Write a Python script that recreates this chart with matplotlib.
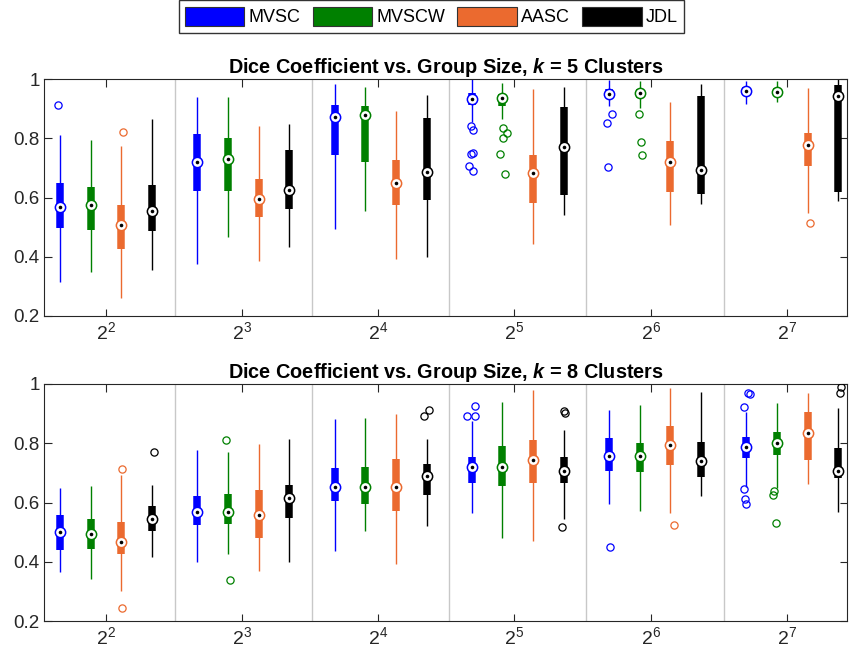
import matplotlib
matplotlib.use("Agg")
import matplotlib.pyplot as plt
from matplotlib.patches import Patch

plt.rcParams['font.family'] = ['Liberation Sans', 'DejaVu Sans']
plt.rcParams['mathtext.fontset'] = 'custom'
plt.rcParams['mathtext.rm'] = 'Liberation Sans'
plt.rcParams['mathtext.it'] = 'Liberation Sans:italic'
plt.rcParams['mathtext.bf'] = 'Liberation Sans:bold'
try:
    plt.rcParams['mathtext.bfit'] = 'Liberation Sans:italic:bold'
    BFIT = True
except KeyError:
    BFIT = False

# ---------------- data ----------------
methods = ['MVSC', 'MVSCW', 'AASC', 'JDL']
colors = ['#0000FF', '#008000', '#EB6A2F', '#000000']
group_labels = [r'$2^{2}$', r'$2^{3}$', r'$2^{4}$', r'$2^{5}$', r'$2^{6}$', r'$2^{7}$']
y_ticks = [0.2, 0.4, 0.6, 0.8, 1.0]
y_ticklabels = ['0.2', '0.4', '0.6', '0.8', '1']
titles = ['Dice Coefficient vs. Group Size, k = 5 Clusters',
          'Dice Coefficient vs. Group Size, k = 8 Clusters']
k_values = [5, 8]

# per method: rows = groups (2^2..2^7), cols = [whisker low, q1, median, q3, whisker high]
k5_MVSC = [[.316, .496, .569, .649, .810],
           [.377, .621, .720, .814, .940],
           [.494, .742, .871, .912, .983],
           [.856, .912, .932, .952, 1.00],
           [.910, .935, .949, .965, .997],
           [.915, .945, .958, .972, .993]]
k5_MVSCW = [[.347, .490, .576, .637, .794],
            [.468, .621, .730, .802, .940],
            [.556, .719, .877, .910, .974],
            [.865, .910, .937, .950, .985],
            [.901, .935, .952, .965, .993],
            [.921, .945, .957, .970, .993]]
k5_AASC = [[.260, .426, .507, .575, .774],
           [.385, .533, .596, .664, .841],
           [.391, .576, .649, .727, .893],
           [.443, .583, .683, .745, .966],
           [.508, .619, .721, .790, .922],
           [.549, .706, .778, .819, .971]]
k5_JDL = [[.354, .487, .554, .641, .865],
          [.434, .561, .625, .760, .848],
          [.398, .591, .686, .867, .945],
          [.540, .608, .772, .907, .972],
          [.579, .613, .693, .943, .983],
          [.587, .619, .944, .980, 1.00]]

k8_MVSC = [[.365, .440, .499, .557, .649],
           [.398, .523, .567, .623, .777],
           [.437, .606, .653, .715, .882],
           [.566, .665, .719, .752, .875],
           [.596, .707, .758, .818, .913],
           [.653, .749, .788, .820, .906]]
k8_MVSCW = [[.343, .442, .495, .545, .656],
            [.427, .526, .567, .628, .772],
            [.505, .596, .653, .719, .884],
            [.479, .655, .719, .792, .938],
            [.572, .702, .758, .800, .929],
            [.648, .760, .800, .839, .937]]
k8_AASC = [[.301, .425, .467, .533, .693],
           [.370, .481, .559, .641, .797],
           [.392, .570, .653, .746, .898],
           [.471, .667, .742, .811, .979],
           [.563, .728, .795, .858, .988],
           [.662, .743, .834, .904, .971]]
k8_JDL = [[.417, .503, .543, .587, .659],
          [.399, .547, .615, .658, .815],
          [.522, .626, .688, .729, .814],
          [.544, .665, .707, .755, .845],
          [.622, .687, .739, .803, .974],
          [.569, .682, .707, .783, .918]]

# outliers: (method index, group index, value, horizontal jitter in box units)
k5_outliers = [
    (0, 0, .912, -0.05), (2, 0, .821, 0.05),
    (0, 3, .842, -0.02), (0, 3, .828, 0.05), (0, 3, .751, 0.05),
    (0, 3, .746, -0.02), (0, 3, .707, -0.09), (0, 3, .690, 0.03),
    (1, 3, .834, 0.01), (1, 3, .819, 0.14), (1, 3, .802, 0.01),
    (1, 3, .746, -0.07), (1, 3, .680, 0.09),
    (0, 4, .881, 0.11), (0, 4, .850, -0.07), (0, 4, .704, -0.04),
    (1, 4, .883, -0.03), (1, 4, .786, 0.03), (1, 4, .743, 0.06),
    (2, 5, .514, 0.09),
]
k8_outliers = [
    (2, 0, .713, 0.02), (2, 0, .245, 0.03), (3, 0, .770, 0.05),
    (1, 1, .810, -0.05), (1, 1, .339, 0.07),
    (3, 2, .891, -0.08), (3, 2, .912, 0.09),
    (0, 3, .925, 0.11), (0, 3, .892, -0.14), (0, 3, .892, 0.11),
    (3, 3, .908, 0.00), (3, 3, .901, 0.03), (3, 3, .516, -0.05),
    (0, 4, .450, 0.02), (2, 4, .524, 0.10),
    (0, 5, .969, 0.07), (0, 5, .966, 0.12), (0, 5, .923, -0.07),
    (0, 5, .644, -0.07), (0, 5, .611, -0.04), (0, 5, .595, -0.02),
    (1, 5, .640, -0.10), (1, 5, .625, -0.13), (1, 5, .532, -0.02),
    (3, 5, .991, 0.09), (3, 5, .971, 0.05),
]

panels = [
    ([k5_MVSC, k5_MVSCW, k5_AASC, k5_JDL], k5_outliers),
    ([k8_MVSC, k8_MVSCW, k8_AASC, k8_JDL], k8_outliers),
]

# ---------------- layout ----------------
W, H = 854, 661
fig = plt.figure(figsize=(W / 100, H / 100), dpi=100)
ax_left, ax_right = 44, 847
ax_rects = [(79, 316), (384, 621)]

group_step = 4.471
tick_pos = [1.5, 5.92, 10.37, 14.79, 19.24, 23.67]
sep_pos = [g * group_step + 3 + (group_step - 3) / 2 for g in range(5)]
axis_color = '#262626'

for p, ((stats, outliers), (top, bot)) in enumerate(zip(panels, ax_rects)):
    ax = fig.add_axes([ax_left / W, 1 - bot / H, (ax_right - ax_left) / W, (bot - top) / H])
    for s in sep_pos:
        ax.axvline(s, color='#C8C8C8', lw=1.0, zorder=0.5)
    for m, (mstats, col) in enumerate(zip(stats, colors)):
        for g, (lo, q1, med, q3, hi) in enumerate(mstats):
            x = g * group_step + m
            ax.plot([x, x], [lo, hi], color=col, lw=1.0, solid_capstyle='butt', zorder=2)
            ax.plot([x, x], [q1, q3], color=col, lw=5.4, solid_capstyle='butt', zorder=3)
            ax.plot([x], [med], marker='o', ms=7.4, mfc='white', mec=col, mew=1.1, zorder=4)
            ax.plot([x], [med], marker='o', ms=2.6, mfc='black', mec='black', mew=0, zorder=5)
    for (m, g, v, dx) in outliers:
        x = g * group_step + m + dx
        ax.plot([x], [v], marker='o', ms=5.2, mfc='none', mec=colors[m], mew=0.9, zorder=3)

    ax.set_xlim(-0.521, 25.635)
    ax.set_ylim(0.2, 1.0)
    ax.set_xticks(tick_pos)
    ax.set_xticklabels(group_labels, fontsize=14)
    ax.set_yticks(y_ticks)
    ax.set_yticklabels(y_ticklabels, fontsize=13.5)
    ax.tick_params(direction='in', length=5.4, width=0.8, colors=axis_color,
                   top=True, right=True, labelcolor=axis_color)
    ax.tick_params(axis='x', pad=4)
    ax.tick_params(axis='y', pad=3)
    for sp in ax.spines.values():
        sp.set_color(axis_color)
        sp.set_linewidth(0.8)
    if BFIT:
        ttl = r'Dice Coefficient vs. Group Size, $\mathbfit{k}$ = %d Clusters' % k_values[p]
    else:
        ttl = titles[p]
    ax.set_title(ttl, fontsize=14.3, fontweight='bold', pad=4, color='black')

handles = [Patch(facecolor=c, edgecolor='#333333', lw=0.8) for c in colors]
fig.legend(handles, methods, loc='center', bbox_to_anchor=(431.5 / W, 1 - 16.5 / H),
           ncol=4, fontsize=13, frameon=True, fancybox=False, edgecolor='#333333',
           framealpha=1, handlelength=3.3, handleheight=1.3, handletextpad=0.25,
           columnspacing=0.65, borderpad=0.35)

fig.savefig('out.png', dpi=100)
